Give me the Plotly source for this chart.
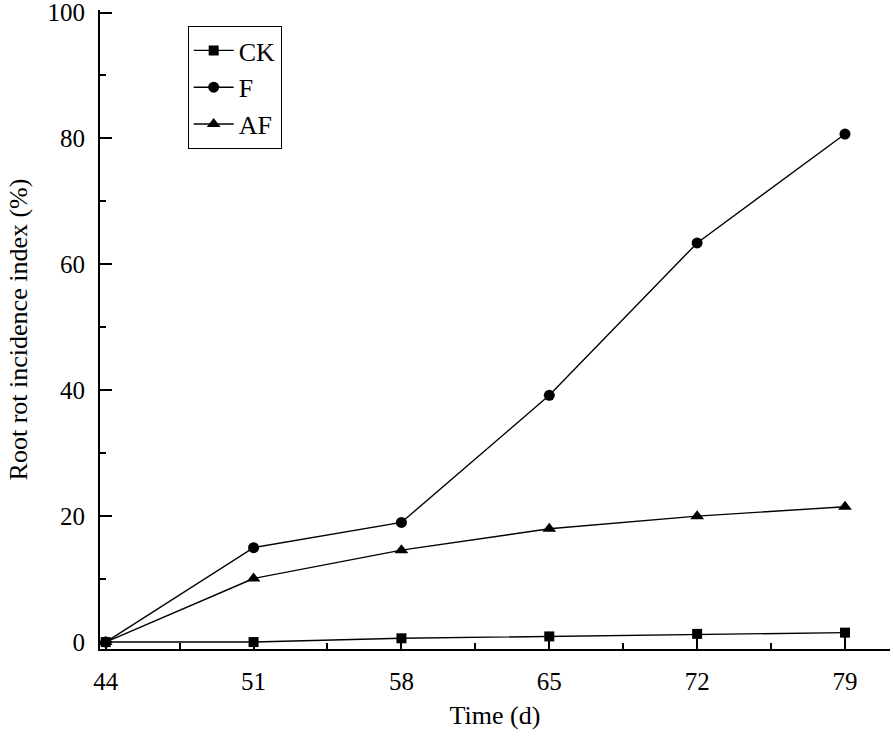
import plotly.graph_objects as go

days = [44, 51, 58, 65, 72, 79]
ck = [0.0, 0.0, 0.6, 0.9, 1.3, 1.5]
f = [0.0, 15.0, 19.0, 39.2, 63.4, 80.7]
af = [0.0, 10.1, 14.6, 18.0, 20.0, 21.5]
y_ticks = [0, 20, 40, 60, 80, 100]

FONT = "Liberation Serif, Times New Roman, serif"

fig = go.Figure()
fig.add_trace(go.Scatter(x=days, y=ck, name="CK", mode="lines+markers",
                         line=dict(color="black", width=1.4),
                         marker=dict(symbol="square", size=10, color="black")))
fig.add_trace(go.Scatter(x=days, y=f, name="F", mode="lines+markers",
                         line=dict(color="black", width=1.4),
                         marker=dict(symbol="circle", size=11, color="black")))
fig.add_trace(go.Scatter(x=days, y=af, name="AF", mode="lines+markers",
                         line=dict(color="black", width=1.4),
                         marker=dict(symbol="triangle-up", size=12, color="black")))

fig.update_layout(
    width=894, height=738,
    margin=dict(l=100, r=4, t=10, b=89, autoexpand=False),
    paper_bgcolor="white", plot_bgcolor="white",
    font=dict(family=FONT, color="black", size=25),
    showlegend=True,
    legend=dict(x=0.111, y=0.975, xanchor="left", yanchor="top",
                bordercolor="black", borderwidth=1, bgcolor="white",
                font=dict(family=FONT, size=26, color="black"),
                tracegroupgap=0, itemwidth=40),
    xaxis=dict(range=[43.73, 81.13], tickmode="array", tickvals=days,
               ticks="inside", ticklen=12, tickwidth=2, tickcolor="black",
               showline=True, linecolor="black", linewidth=2, showgrid=False, zeroline=False,
               tickfont=dict(family=FONT, size=25), ticklabelstandoff=9,
               ticklabeloverflow="allow",
               minor=dict(tick0=44, dtick=3.5, ticks="inside", ticklen=6, tickwidth=2,
                          tickcolor="black", showgrid=False),
               title=dict(text="Time (d)", font=dict(family=FONT, size=26), standoff=12)),
    yaxis=dict(range=[-1.1, 100.4], tickmode="array", tickvals=y_ticks,
               ticks="inside", ticklen=12, tickwidth=2, tickcolor="black",
               showline=True, linecolor="black", linewidth=2, showgrid=False, zeroline=False,
               tickfont=dict(family=FONT, size=25), ticklabelstandoff=8,
               ticklabeloverflow="allow",
               minor=dict(tick0=0, dtick=10, ticks="inside", ticklen=6, tickwidth=2,
                          tickcolor="black", showgrid=False),
               title=dict(text="Root rot incidence index (%)", font=dict(family=FONT, size=26),
                          standoff=12)),
)

fig.write_html("out.html", config={"displayModeBar": False},
               post_script="document.body.style.margin='0';")
